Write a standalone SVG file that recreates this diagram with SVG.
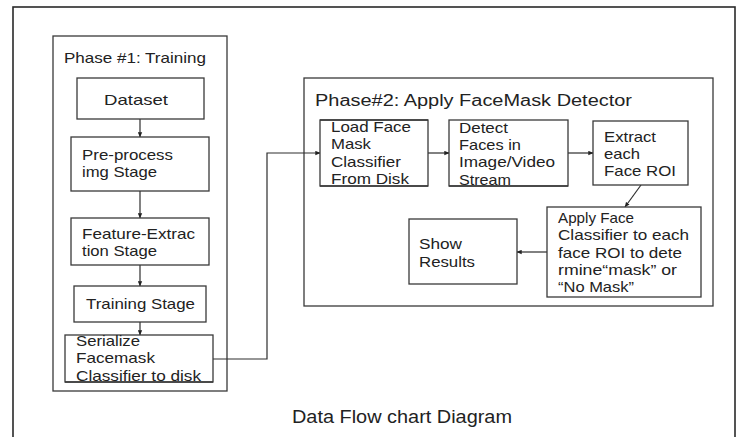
<svg xmlns="http://www.w3.org/2000/svg" width="737" height="437" viewBox="0 0 737 437">
  <style>
    .frame { fill: none; stroke: #2a2a2a; stroke-width: 1.6; }
    .box { fill: #ffffff; stroke: #3a3a3a; stroke-width: 1.3; }
    .phase { fill: none; stroke: #3a3a3a; stroke-width: 1.3; }
    .wire { fill: none; stroke: #2e2e2e; stroke-width: 1.2; }
    text { font-family: "Liberation Sans", Arial, sans-serif; fill: #222222; font-size: 14.5px; }
    .title { font-size: 16px; }
    .caption { font-size: 17.5px; }
  </style>
  <defs>
    <marker id="arrow" viewBox="0 0 8 8" refX="7.5" refY="4" markerWidth="5" markerHeight="5" orient="auto" markerUnits="userSpaceOnUse">
      <path d="M0,0.5 L8,4 L0,7.5 Z" fill="#222222"/>
    </marker>
  </defs>

  <rect width="737" height="437" fill="#ffffff"/>
  <!-- page frame -->
  <rect class="frame" x="13" y="7" width="722" height="440"/>

  <!-- Phase 1 container -->
  <g id="phase1">
    <rect class="phase" x="53" y="36" width="174" height="355"/>
    <text x="64" y="63" textLength="142" lengthAdjust="spacingAndGlyphs">Phase #1: Training</text>
  </g>

  <!-- Phase 2 container -->
  <g id="phase2">
    <rect class="phase" x="304" y="78" width="409" height="228"/>
    <text class="title" x="315" y="106" textLength="317" lengthAdjust="spacingAndGlyphs">Phase#2: Apply FaceMask Detector</text>
  </g>

  <!-- connectors -->
  <g id="connectors">
    <line class="wire" x1="140" y1="119" x2="140" y2="137" marker-end="url(#arrow)"/>
    <line class="wire" x1="140" y1="191" x2="140" y2="218" marker-end="url(#arrow)"/>
    <line class="wire" x1="140" y1="265" x2="140" y2="286" marker-end="url(#arrow)"/>
    <line class="wire" x1="140" y1="322" x2="140" y2="335" marker-end="url(#arrow)"/>
    <polyline class="wire" points="213,359 267,359 267,153 320,153" marker-end="url(#arrow)"/>
    <line class="wire" x1="428" y1="153" x2="449" y2="153" marker-end="url(#arrow)"/>
    <line class="wire" x1="568" y1="153" x2="593" y2="153" marker-end="url(#arrow)"/>
    <line class="wire" x1="641" y1="185" x2="625" y2="207" marker-end="url(#arrow)"/>
    <line class="wire" x1="547" y1="252" x2="517" y2="252" marker-end="url(#arrow)"/>
  </g>

  <g id="dataset">
    <rect class="box" x="77" y="78" width="127" height="41"/>
    <text x="104" y="105" textLength="64" lengthAdjust="spacingAndGlyphs">Dataset</text>
  </g>

  <g id="preprocess">
    <rect class="box" x="71" y="137" width="138" height="54"/>
    <text x="82" y="160" textLength="91" lengthAdjust="spacingAndGlyphs">Pre-process</text>
    <text x="82" y="177" textLength="75" lengthAdjust="spacingAndGlyphs">img Stage</text>
  </g>

  <g id="feature-extraction">
    <rect class="box" x="71" y="218" width="138" height="47"/>
    <text x="82" y="239" textLength="113" lengthAdjust="spacingAndGlyphs">Feature-Extrac</text>
    <text x="82" y="256" textLength="75" lengthAdjust="spacingAndGlyphs">tion Stage</text>
  </g>

  <g id="training">
    <rect class="box" x="74" y="286" width="132" height="36"/>
    <text x="86" y="309" textLength="109" lengthAdjust="spacingAndGlyphs">Training Stage</text>
  </g>

  <g id="serialize">
    <rect class="box" x="65" y="335" width="148" height="47"/>
    <text x="76" y="346" textLength="64" lengthAdjust="spacingAndGlyphs">Serialize</text>
    <text x="76" y="363" textLength="79" lengthAdjust="spacingAndGlyphs">Facemask</text>
    <text x="76" y="381" textLength="125" lengthAdjust="spacingAndGlyphs">Classifier to disk</text>
    <line x1="65" y1="382" x2="213" y2="382" stroke="#3a3a3a" stroke-width="1.3"/>
  </g>

  <g id="load-classifier">
    <rect class="box" x="320" y="120" width="108" height="66"/>
    <text x="331" y="131.5" textLength="80" lengthAdjust="spacingAndGlyphs">Load Face</text>
    <text x="331" y="149" textLength="40" lengthAdjust="spacingAndGlyphs">Mask</text>
    <text x="331" y="166.5" textLength="70" lengthAdjust="spacingAndGlyphs">Classifier</text>
    <text x="331" y="184" textLength="78" lengthAdjust="spacingAndGlyphs">From Disk</text>
    <line x1="320" y1="120" x2="428" y2="120" stroke="#3a3a3a" stroke-width="1.3"/>
    <line x1="320" y1="186" x2="428" y2="186" stroke="#3a3a3a" stroke-width="1.3"/>
  </g>

  <g id="detect-faces">
    <rect class="box" x="449" y="120" width="119" height="66"/>
    <text x="459" y="132.5" textLength="49" lengthAdjust="spacingAndGlyphs">Detect</text>
    <text x="459" y="150" textLength="62" lengthAdjust="spacingAndGlyphs">Faces in</text>
    <text x="459" y="167" textLength="96" lengthAdjust="spacingAndGlyphs">Image/Video</text>
    <text x="459" y="185" textLength="52" lengthAdjust="spacingAndGlyphs">Stream</text>
    <line x1="449" y1="186" x2="568" y2="186" stroke="#3a3a3a" stroke-width="1.3"/>
  </g>

  <g id="extract-roi">
    <rect class="box" x="593" y="121" width="95" height="64"/>
    <text x="604" y="141.5" textLength="52" lengthAdjust="spacingAndGlyphs">Extract</text>
    <text x="604" y="158.5" textLength="36" lengthAdjust="spacingAndGlyphs">each</text>
    <text x="604" y="176" textLength="72" lengthAdjust="spacingAndGlyphs">Face ROI</text>
  </g>

  <g id="apply-classifier">
    <rect class="box" x="547" y="207" width="154" height="90"/>
    <text x="558" y="223" textLength="76" lengthAdjust="spacingAndGlyphs">Apply Face</text>
    <text x="558" y="240" textLength="131" lengthAdjust="spacingAndGlyphs">Classifier to each</text>
    <text x="558" y="257.5" textLength="124" lengthAdjust="spacingAndGlyphs">face ROI to dete</text>
    <text x="558" y="275" textLength="119" lengthAdjust="spacingAndGlyphs">rmine“mask” or</text>
    <text x="558" y="292" textLength="76" lengthAdjust="spacingAndGlyphs">“No Mask”</text>
  </g>

  <g id="show-results">
    <rect class="box" x="409" y="219" width="108" height="65"/>
    <text x="419" y="249" textLength="43" lengthAdjust="spacingAndGlyphs">Show</text>
    <text x="419" y="266.5" textLength="56" lengthAdjust="spacingAndGlyphs">Results</text>
  </g>

  <text class="caption" x="292" y="423" textLength="220" lengthAdjust="spacingAndGlyphs">Data Flow chart Diagram</text>
</svg>
